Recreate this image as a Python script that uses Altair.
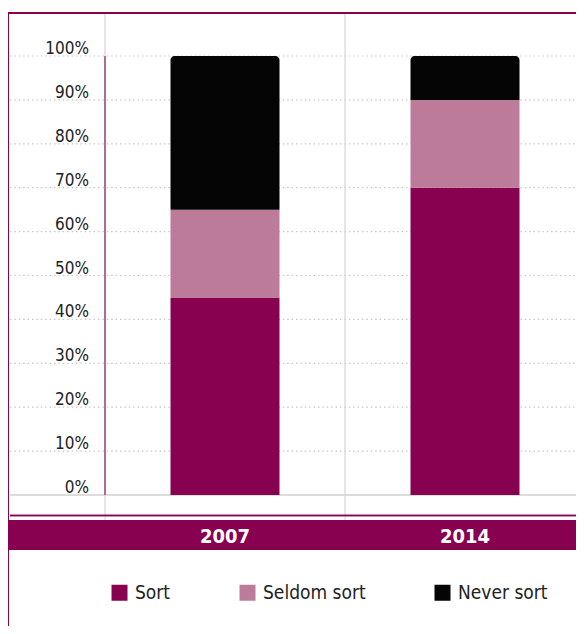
import altair as alt
import pandas as pd

# ---- data ----
years = ["2007", "2014"]
categories = ["Sort", "Seldom sort", "Never sort"]
sort_share = [45, 70]
seldom_share = [20, 20]
never_share = [35, 10]
tick_values = [0, 10, 20, 30, 40, 50, 60, 70, 80, 90, 100]
tick_labels = ["0%", "10%", "20%", "30%", "40%", "50%", "60%", "70%", "80%", "90%", "100%"]

cat_colors = ["#880050", "#bc7b99", "#050505"]
PURPLE = "#880050"
FONT = "'DejaVu Sans Condensed', 'Roboto Condensed', 'Liberation Sans Narrow', Roboto, sans-serif"
W, H = 568, 618

rows = []
for i, yr in enumerate(years):
    for j, (c, vals) in enumerate(zip(categories, [sort_share, seldom_share, never_share])):
        rows.append({"year": yr, "category": c, "value": vals[i], "order": j})
df = pd.DataFrame(rows)
ticks_df = pd.DataFrame({"v": tick_values, "label": tick_labels})
years_df = pd.DataFrame({"year": years})

yscale = alt.Scale(domain=[0, 100], range=[487, 48])
xscale = alt.Scale(domain=years, range=[97, 577], paddingInner=0, paddingOuter=0)

grid = alt.Chart(ticks_df).transform_filter("datum.v > 0").mark_rule(
    color="#c4c4c4", strokeDash=[1.4, 3], strokeWidth=1.2
).encode(y=alt.Y("v:Q", scale=yscale, axis=None), x=alt.value(2), x2=alt.value(W))

baseline = alt.Chart(ticks_df).transform_filter("datum.v == 0").mark_rule(
    color="#d0d0d0", strokeWidth=1.5
).encode(y=alt.Y("v:Q", scale=yscale, axis=None), x=alt.value(2), x2=alt.value(W))

separators = alt.Chart(years_df).mark_rule(color="#d6d6d6", strokeWidth=1.2).encode(
    x=alt.X("year:N", scale=xscale, axis=None, bandPosition=0),
    y=alt.value(6), y2=alt.value(512)
)

axis_line = alt.Chart(ticks_df).transform_aggregate(
    lo="min(v)", hi="max(v)"
).mark_rule(color="#9a3572", strokeWidth=1.4).encode(
    x=alt.value(97), y=alt.Y("hi:Q", scale=yscale, axis=None), y2="lo:Q"
)

base = alt.Chart(df).transform_stack(
    stack="value", groupby=["year"], as_=["y0", "y1"],
    sort=[alt.SortField("order", order="ascending")]
)
color_enc = alt.Color(
    "category:N",
    scale=alt.Scale(domain=categories, range=cat_colors),
    legend=alt.Legend(
        title=None, orient="none", legendX=102, legendY=575,
        direction="horizontal", symbolType="square", symbolSize=256,
        symbolStrokeWidth=0, symbolOpacity=1, labelFont=FONT, labelFontSize=19,
        labelColor="#222222", labelOffset=6, columnPadding=67
    ),
)
lower = base.transform_filter("datum.category != 'Never sort'").mark_bar(size=109).encode(
    x=alt.X("year:N", scale=xscale, axis=None),
    y=alt.Y("y1:Q", scale=yscale, axis=None), y2="y0:Q",
    color=color_enc,
)
upper = base.transform_filter("datum.category == 'Never sort'").mark_bar(
    size=109, cornerRadiusTopLeft=4, cornerRadiusTopRight=4
).encode(
    x=alt.X("year:N", scale=xscale, axis=None),
    y=alt.Y("y1:Q", scale=yscale, axis=None), y2="y0:Q",
    color=color_enc,
)

ylabels = alt.Chart(ticks_df).mark_text(
    align="right", baseline="alphabetic", dy=-2, font=FONT, fontSize=17, color="#222222"
).encode(y=alt.Y("v:Q", scale=yscale, axis=None), x=alt.value(81), text="label:N")

top_border = alt.Chart(years_df).mark_rule(color=PURPLE, strokeWidth=2).encode(
    x=alt.value(0), x2=alt.value(W), y=alt.value(5)
)
left_border = alt.Chart(years_df).mark_rule(color=PURPLE, strokeWidth=2).encode(
    x=alt.value(0), y=alt.value(4), y2=alt.value(H)
)
thin_line = alt.Chart(years_df).mark_rule(color=PURPLE, strokeWidth=1.3).encode(
    x=alt.value(2), x2=alt.value(W), y=alt.value(507.5)
)
band = alt.Chart(years_df).mark_rect(color=PURPLE).encode(
    x=alt.value(1), x2=alt.value(W), y=alt.value(512), y2=alt.value(542)
)
year_labels = alt.Chart(years_df).mark_text(
    font=FONT, fontSize=20, fontWeight="bold", color="white", baseline="middle"
).encode(x=alt.X("year:N", scale=xscale, axis=None), y=alt.value(529), text="year:N")

chart = alt.layer(
    grid, baseline, separators, axis_line, lower, upper, ylabels,
    top_border, left_border, thin_line, band, year_labels
).properties(
    width=W, height=H, autosize="none", padding=0, background="white"
).configure_view(stroke=None)

chart.save("out.html", embed_options={"renderer": "svg", "actions": False})
